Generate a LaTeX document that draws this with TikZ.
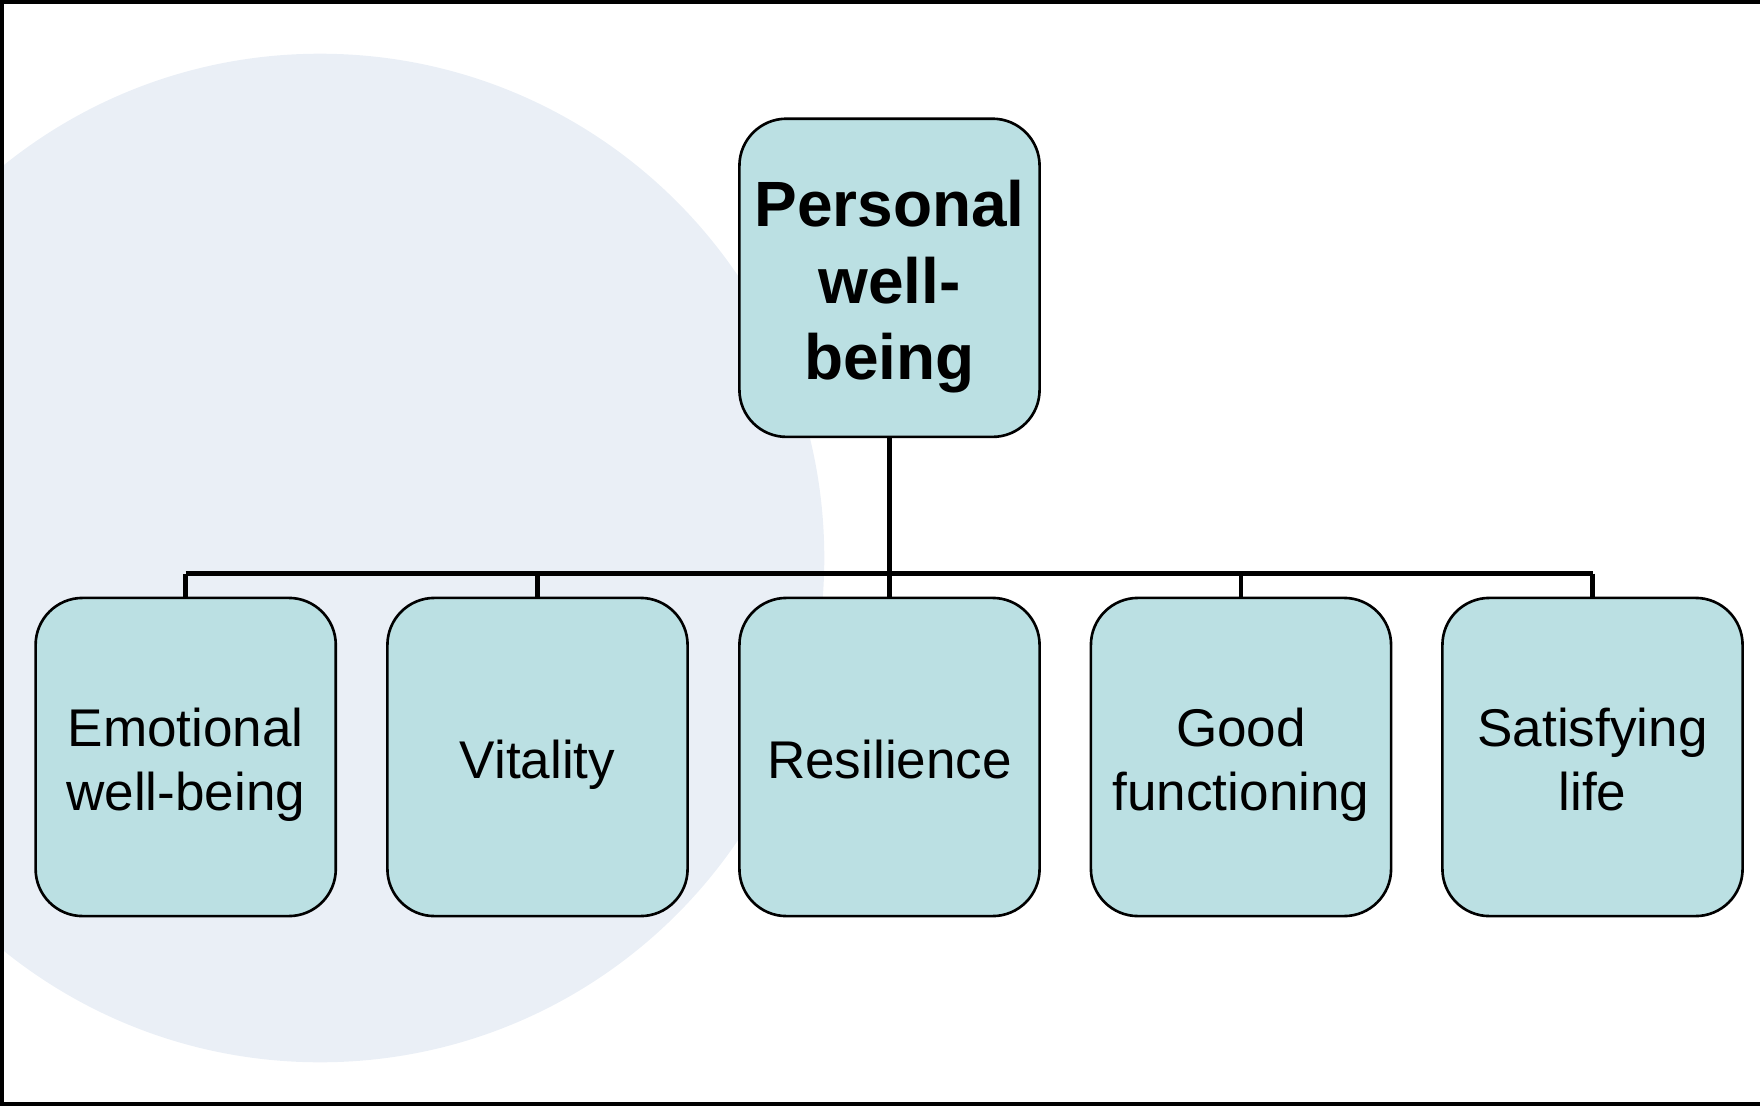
\documentclass[tikz,border=0pt]{standalone}
\usepackage{fontspec}
\setmainfont{Liberation Sans}
\definecolor{boxfill}{RGB}{187,224,227}
\definecolor{circfill}{RGB}{234,239,246}
\newcommand{\boxtext}[2]{\raisebox{#1}[\height][\depth]{\begin{tabular}{@{}c@{}}#2\end{tabular}}}
\begin{document}
\begin{tikzpicture}[x=0.01cm,y=-0.01cm,
  box/.style={draw=black, line width=0.75pt, fill=boxfill, rounded corners=0.47cm,
    minimum width=3.0cm, minimum height=3.18cm, inner sep=0pt,
    font=\fontsize{15.1}{18.2}\selectfont},
  topbox/.style={box, font=\fontsize{18.2}{21.7}\selectfont\bfseries},
  conn/.style={line width=1.3pt}]
\useasboundingbox (0,0) rectangle (1760,1106);
\begin{scope}
\clip (0,0) rectangle (1760,1106);
\fill[circfill] (320,558) circle (5.04cm);
\end{scope}
\draw[line width=0.9pt] (1760,2) -- (2,2) -- (2,1104) -- (1760,1104);
\node[topbox] (top) at (889.5,277.8) {\boxtext{-0.10cm}{Personal\\well-\\being}};
\node[box] (n1) at (185.7,757) {\boxtext{-0.085cm}{Emotional\\well-being}};
\node[box] (n2) at (537.5,757) {\boxtext{-0.085cm}{Vitality}};
\node[box] (n3) at (889.5,757) {\boxtext{-0.085cm}{Resilience}};
\node[box] (n4) at (1241,757) {\boxtext{-0.085cm}{Good\\functioning}};
\node[box] (n5) at (1592.5,757) {\boxtext{-0.085cm}{Satisfying\\life}};
\coordinate (bar) at (889.5,573.5);
\coordinate (barL) at (185.7,573.5);
\coordinate (barR) at (1592.5,573.5);
\draw[conn] (top.south) -- (bar);
\draw[conn] (barL) -- (barR);
\foreach \n in {n1,n2,n3,n4,n5} {
  \draw[conn] (\n.north |- bar) -- (\n.north);
}
\end{tikzpicture}
\end{document}
